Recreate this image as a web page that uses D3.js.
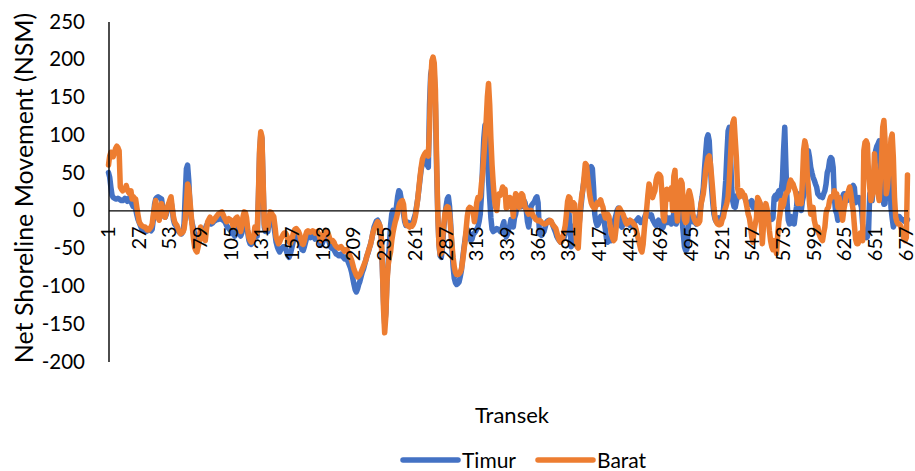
<!DOCTYPE html>
<html>
<head>
<meta charset="utf-8">
<script src="https://cdn.jsdelivr.net/npm/d3@7"></script>
<style>
  html, body { margin: 0; padding: 0; background: #ffffff; }
  svg { display: block; font-family: Lato, "Open Sans", sans-serif; }
</style>
</head>
<body>
<svg id="chart" width="915" height="471"></svg>
<script>
// Net shoreline movement per transect, east (Timur) and west (Barat) series
const timur = [
  50, 44, 31, 20, 17, 16, 15, 15, 16, 15,
  14, 13, 13, 14, 16, 15, 12, 15, 17, 12,
  8, 5, 5, 2, -6, -12, -16, -20, -24, -26,
  -27, -27, -28, -27, -26, -26, -27, -25, -12, 8,
  15, 17, 18, 17, 16, 15, 3, -8, -9, -5,
  2, 6, 10, 12, 2, -12, -18, -20, -24, -27,
  -29, -30, -31, -28, -18, 20, 55, 60, 40, 8,
  -10, -18, -24, -32, -38, -40, -36, -32, -31, -30,
  -30, -27, -24, -20, -18, -17, -16, -18, -17, -15,
  -14, -13, -12, -12, -11, -11, -12, -13, -14, -16,
  -20, -22, -24, -26, -28, -30, -32, -34, -30, -25,
  -22, -28, -34, -30, -18, -10, -12, -18, -30, -40,
  -44, -45, -42, -38, -28, -32, -34, 15, 75, 100,
  95, 35, -22, -28, -26, -28, -16, -6, -8, -12,
  -20, -30, -42, -48, -52, -55, -52, -50, -48, -48,
  -50, -55, -60, -62, -58, -52, -45, -38, -34, -33,
  -35, -38, -42, -48, -52, -53, -48, -42, -36, -34,
  -35, -36, -35, -34, -35, -38, -36, -34, -37, -42,
  -46, -44, -40, -36, -35, -35, -38, -42, -48, -50,
  -49, -52, -55, -58, -58, -60, -60, -58, -60, -62,
  -64, -62, -64, -68, -72, -76, -82, -90, -98, -105,
  -108, -104, -98, -94, -88, -82, -78, -72, -66, -60,
  -56, -50, -45, -38, -30, -22, -18, -14, -13, -16,
  -22, -35, -75, -120, -150, -135, -90, -70, -45, -20,
  -5, 0, -2, -10, 5, 18, 26, 24, 15, 5,
  -5, -15, -20, -18, -16, -18, -20, -18, -15, -10,
  -5, 5, 15, 28, 42, 55, 62, 65, 68, 66,
  60, 57, 140, 180, 188, 190, 180, 140, 55, -5,
  -45, -60, -62, -48, -25, -8, 5, 15, 18, 5,
  -20, -50, -75, -90, -96, -98, -97, -95, -88, -80,
  -65, -52, -40, -30, -25, -28, -35, -40, -38, -32,
  -30, -28, -25, -22, -15, -5, 20, 60, 95, 113,
  105, 75, 40, 15, -10, -25, -28, -27, -26, -24,
  -25, -26, -28, -27, -20, -15, -30, -35, -32, -25,
  -20, -12, -15, -22, -10, -5, 5, 15, 18, 10,
  5, 12, 13, 10, 0, -15, -22, -10, 5, 8,
  10, 12, 16, 18, 10, -25, -32, -33, -30, -28,
  -22, -16, -14, -13, -14, -15, -18, -22, -26, -30,
  -35, -38, -40, -42, -40, -38, -36, -30, -20, -10,
  0, -20, -48, -45, -25, -20, -28, -32, -30, -15,
  0, 15, 30, 40, 50, 45, 35, 48, 55, 58,
  55, 30, -5, -15, -20, -18, -12, -8, -10, -14,
  -15, -25, -38, -42, -40, -38, -40, -30, -20, -12,
  -6, 0, 3, -5, -20, -22, -18, -14, -12, -14,
  -16, -18, -20, -20, -18, -16, -15, -14, -12, -10,
  -13, -16, -15, -13, -10, -6, -3, -5, -7, -8,
  -6, -12, -15, -18, -20, -16, -13, -15, -20, -24,
  -22, -15, -8, -12, -16, -10, -14, -18, -10, -4,
  -8, -18, -12, -2, 2, 4, -12, -30, -48, -53,
  -52, -30, -5, 0, -10, -15, -14, -16, -18, -15,
  -10, -4, 8, 18, 30, 55, 76, 95, 100, 92,
  60, 30, 10, -5, -12, -15, -13, -10, -12, -14,
  -8, 0, 18, 40, 75, 105, 110, 75, 30, 12,
  5, 4, 12, 20, 22, 26, 24, 22, 20, 18,
  13, 10, 8, 8, 10, 13, 4, 6, 9, 10,
  -10, 8, 9, 0, -5, 4, 0, -4, -8, -5,
  -8, -10, -12, -10, 17, 20, 15, 22, 26, 18,
  26, 40, 80, 110, 57, 10, -13, -18, -8, -12,
  -13, -18, -5, 5, 22, 18, 4, 0, 13, 20,
  40, 60, 75, 79, 70, 57, 50, 44, 40, 35,
  31, 22, 20, 18, 18, 17, 22, 26, 35, 50,
  55, 66, 70, 68, 57, 17, 0, -4, -13, -10,
  -4, 13, 18, 22, 22, 13, 13, 20, 26, 26,
  30, 33, 30, 10, 13, 13, 17, 10, 4, -18,
  -31, -35, -36, -35, -27, 22, 13, 13, 40, 57,
  79, 85, 88, 92, 62, 40, 17, 8, 9, 40,
  75, 70, 57, 4, -10, -22, -18, -12, -10, -8,
  -8, -10, -12, -12, -14, -15, -15, -12
];

const barat = [
  60, 72, 77, 74, 71, 76, 82, 85, 83, 79,
  31, 28, 26, 29, 28, 33, 27, 24, 22, 26,
  15, 18, 16, 15, 4, -6, -15, -18, -20, -21,
  -22, -22, -24, -26, -26, -24, -22, -18, -5, 4,
  13, 0, -10, -13, 2, 9, 0, -6, -9, -2,
  5, 9, 14, 18, 4, -8, -15, -18, -20, -25,
  -28, -31, -30, -29, -25, -13, 10, 35, 30, 13,
  -5, -22, -38, -49, -53, -55, -48, -40, -22, -28,
  -35, -38, -40, -25, -15, -12, -9, -12, -15, -13,
  -11, -9, -7, -5, -4, -3, -2, -5, -9, -12,
  -15, -13, -11, -12, -13, -18, -22, -13, -10, -9,
  -15, -22, -28, -20, -8, -2, -3, -10, -25, -36,
  -40, -42, -40, -35, -22, -28, -30, 20, 80, 104,
  98, 40, -18, -25, -22, -24, -10, -2, -3, -6,
  -8, -20, -35, -40, -44, -42, -38, -35, -32, -30,
  -30, -33, -38, -42, -44, -40, -34, -28, -25, -24,
  -26, -28, -32, -40, -44, -45, -40, -33, -28, -27,
  -28, -29, -28, -27, -28, -30, -29, -28, -31, -36,
  -40, -38, -33, -29, -28, -27, -30, -35, -40, -41,
  -40, -42, -46, -48, -49, -50, -49, -48, -50, -52,
  -54, -52, -52, -55, -58, -62, -66, -72, -78, -82,
  -86, -88, -87, -85, -82, -78, -74, -70, -66, -60,
  -55, -50, -45, -38, -30, -25, -22, -18, -15, -17,
  -20, -30, -70, -130, -162, -140, -95, -72, -62, -55,
  -40, -30, -22, -15, -10, -3, 5, 10, 12, 13,
  8, -10, -18, -20, -21, -22, -20, -21, -19, -15,
  -8, 3, 15, 30, 45, 58, 68, 72, 75, 77,
  74, 72, 110, 170, 198, 203, 195, 160, 70, -5,
  -45, -58, -56, -40, -20, -5, 2, 5, 4, -5,
  -25, -45, -62, -75, -82, -85, -85, -84, -82, -78,
  -68, -55, -42, -25, -8, 2, 4, 3, 0, -2,
  -15, -5, 10, 17, 15, 18, 35, 48, 72, 95,
  118, 150, 168, 140, 95, 60, 35, 15, 4, 0,
  18, 22, 20, 25, 31, 25, 28, 3, 4, 8,
  17, 15, 8, -8, 12, 22, 20, 17, 4, 10,
  22, 20, 12, 4, 2, -2, -5, -3, 0, -4,
  -8, -9, -12, -13, -14, -13, -14, -16, -17, -18,
  -18, -17, -16, -14, -13, -14, -18, -20, -22, -24,
  -30, -36, -40, -42, -41, -35, -28, -20, -5, 12,
  18, 16, 5, 0, 10, 8, -30, -48, -50, -22,
  5, 20, 28, 45, 62, 60, 44, 30, 18, 10,
  6, 4, 2, 6, 10, 8, 12, 14, 8, 4,
  -5, -10, -8, -5, -8, -20, -30, -36, -40, -38,
  -25, -8, 2, 3, 0, -3, -5, -10, -15, -18,
  -17, -15, -13, -14, -16, -18, -20, -25, -32, -38,
  -45, -52, -55, -45, -25, -10, 2, 20, 35, 28,
  20, 17, 22, 26, 40, 46, 48, 47, 44, 20,
  -8, -14, 10, 28, 26, 15, 22, 30, 0, 45,
  53, 10, -14, 5, 30, 40, 36, 10, -12, -16,
  -14, 18, 26, 20, 12, -4, -10, -14, -17, -18,
  -17, -14, 8, 15, 22, 36, 52, 62, 70, 72,
  62, 45, 26, 4, -10, -15, -18, -19, -19, -18,
  -12, -9, 0, 4, 10, 18, 40, 70, 100, 116,
  121, 95, 70, 30, 22, 18, 26, 24, 20, 20,
  12, 4, -5, -10, -20, -35, -42, -26, -18, -10,
  17, 14, 10, -12, -44, -20, 0, 9, 2, -9,
  -27, -40, -48, -52, -40, -50, -57, -33, -15, -4,
  13, 4, 8, 17, 22, 24, 26, 35, 40, 37,
  35, 30, 26, 18, 9, 13, 13, 9, 40, 80,
  92, 85, 50, 30, 9, -5, 4, 4, -13, -20,
  -26, -22, -31, -35, -38, -40, -30, -22, -4, 2,
  4, 13, 18, 18, 18, 26, 22, 22, 4, 17,
  8, -4, -13, 0, 9, 20, 20, 26, 31, 22,
  10, 0, -20, -38, -44, -44, -40, -30, -36, -40,
  79, 90, 92, 88, 48, 30, 13, 20, 26, 75,
  48, 35, 22, 13, 40, 66, 110, 119, 92, 22,
  31, 50, 66, 95, 101, 70, 17, -9, -15, -18,
  -18, -20, -25, -32, -38, -40, -36, 47
];

// Transect numbers (one category per value) and the labelled ones
const categories = d3.range(1, timur.length + 1);
const xTickLabels = [1, 27, 53, 79, 105, 131, 157, 183, 209, 235, 261, 287, 313,
  339, 365, 391, 417, 443, 469, 495, 521, 547, 573, 599, 625, 651, 677];
const yTickLabels = [-200, -150, -100, -50, 0, 50, 100, 150, 200, 250];

const seriesNames = ["Timur", "Barat"];
const seriesColors = ["#4472C4", "#ED7D31"];
const seriesValues = [timur, barat];

const svg = d3.select("#chart");

const x = d3.scalePoint().domain(categories).range([108.5, 907.5]);
const y = d3.scaleLinear().domain([-200, 250]).range([361.5, 21.5]);

// Series lines (east first, west drawn over it)
const line = d3.line()
  .x((d, i) => x(categories[i]))
  .y(d => y(d));

svg.append("g")
  .selectAll("path")
  .data(seriesValues)
  .join("path")
  .attr("d", d => line(d))
  .attr("fill", "none")
  .attr("stroke", (d, i) => seriesColors[i])
  .attr("stroke-width", 5.5)
  .attr("stroke-linejoin", "round")
  .attr("stroke-linecap", "round");

// Vertical value axis, plain hyphen for negatives
const yAxis = svg.append("g")
  .attr("transform", "translate(108.5,0)")
  .call(d3.axisLeft(y)
    .tickValues(yTickLabels)
    .tickFormat(d => String(d))
    .tickSize(0).tickSizeOuter(0).tickPadding(23.5));
yAxis.select(".domain").attr("stroke", "#000").attr("stroke-width", 1.4);
yAxis.selectAll("text")
  .attr("fill", "#000")
  .attr("font-family", "Lato, 'Open Sans', sans-serif")
  .attr("font-size", 20.5);

// Category axis along the zero line, labels turned upright
const xAxis = svg.append("g")
  .attr("transform", `translate(0,${y(0)})`)
  .call(d3.axisBottom(x).tickValues(xTickLabels).tickSize(0).tickSizeOuter(0));
xAxis.select(".domain").attr("stroke", "#000").attr("stroke-width", 1.4);
xAxis.selectAll("text")
  .attr("fill", "#000")
  .attr("font-family", "Lato, 'Open Sans', sans-serif")
  .attr("font-size", 20)
  .attr("transform", "rotate(-90)")
  .attr("text-anchor", "end")
  .attr("x", -16)
  .attr("y", 0)
  .attr("dy", "0.3em");

// Axis titles
svg.append("text")
  .attr("transform", "translate(33,188) rotate(-90)")
  .attr("text-anchor", "middle")
  .attr("font-size", 25)
  .attr("fill", "#000")
  .text("Net Shoreline Movement (NSM)");

svg.append("text")
  .attr("x", 512)
  .attr("y", 423)
  .attr("text-anchor", "middle")
  .attr("font-size", 22)
  .attr("fill", "#000")
  .text("Transek");

// Legend
const legendX = [403, 538];
const legend = svg.append("g")
  .selectAll("g")
  .data(seriesNames)
  .join("g")
  .attr("transform", (d, i) => `translate(${legendX[i]},460)`);
legend.append("line")
  .attr("x1", 0).attr("x2", 55)
  .attr("y1", 0).attr("y2", 0)
  .attr("stroke", (d, i) => seriesColors[i])
  .attr("stroke-width", 5.5)
  .attr("stroke-linecap", "round");
legend.append("text")
  .attr("x", 59)
  .attr("y", 8)
  .attr("font-size", 21)
  .attr("fill", "#000")
  .text(d => d);
</script>
</body>
</html>
